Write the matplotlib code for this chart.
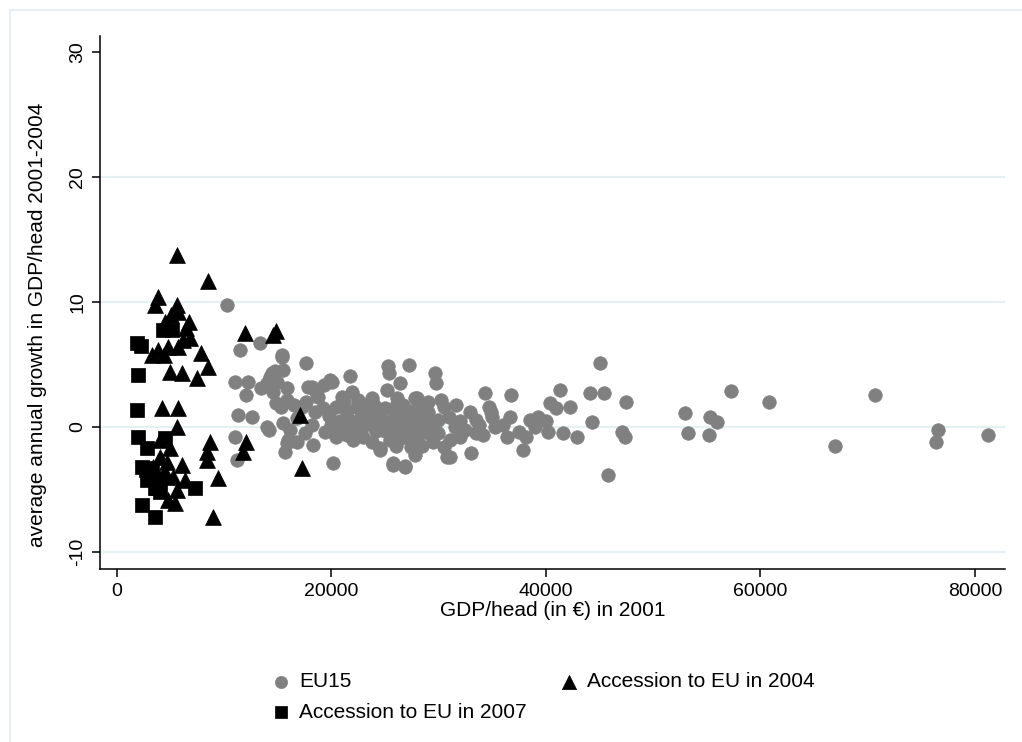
import matplotlib
matplotlib.use("Agg")
import matplotlib.pyplot as plt
from matplotlib.lines import Line2D

plt.rcParams['font.family'] = ['Liberation Sans', 'DejaVu Sans']

# EU15 members: GDP/head 2001 (EUR), avg annual growth 2001-2004 (%)
eu15_x = [10300, 11500, 13400, 11000, 12300, 12100, 11300, 12600, 11000, 11200,
          13500, 14000, 14300, 14500, 14800, 14200, 15400, 15500, 15900, 15000,
          14600, 14900, 15900, 15300, 14200, 15500, 16200, 16000, 15700, 14000,
          17700, 17800, 18200, 19300, 19900, 17300, 17700, 18500, 18200, 17600,
          16800, 18300, 19400, 20200, 20100, 21800, 21900, 21000, 20500, 20500,
          19800, 20800, 21500, 22400, 22000, 22800, 23000, 23800, 23400, 24000,
          24200, 24600, 25200, 25300, 25400, 26400, 26100, 27300, 27800, 25000,
          25500, 25800, 26000, 26500, 26700, 27000, 27300, 27500, 28000, 28200,
          28600, 28000, 25800, 26900, 27800, 27400, 29700, 29800, 30200, 29000,
          29500, 30000, 30500, 31100, 31600, 31000, 32000, 32900, 33500, 34300,
          34700, 34900, 34200, 33000, 31100, 30800, 32500, 33800, 35300, 36400,
          36800, 36700, 37900, 38200, 38500, 39300, 40200, 40400, 41300, 42300,
          41000, 41600, 42900, 44100, 45400, 45100, 44300, 47500, 47100, 47400,
          45800, 53000, 53300, 55300, 56000, 55200, 57300, 60800, 67000, 70700,
          76600, 76400, 81200,
          21000, 21500, 22000, 22500, 23000, 23500, 24000, 24500, 25000, 25500,
          26000, 26500, 27000, 27500, 28000, 28500, 29000, 29500, 30000, 31500,
          22500, 23000, 24500, 24000, 26000, 27000, 28500, 29000, 30500, 32000,
          33500, 35000, 36000, 37500, 39000, 40000, 21200, 21800, 23800, 20000,
          19200, 18800, 16500, 16800, 15400, 15900, 18600, 24600, 25800, 26900]
eu15_y = [9.8, 6.2, 6.7, 3.6, 3.6, 2.6, 1.0, 0.8, -0.8, -2.6,
          3.1, 3.5, 4.0, 4.3, 4.5, 3.3, 5.6, 4.6, 3.1, 3.6,
          2.8, 1.9, 2.2, 1.6, -0.2, 0.3, -0.2, -1.0, -2.0, 0.0,
          5.1, 3.2, 3.2, 3.4, 3.8, 1.6, 2.0, 1.2, 0.2, -0.5,
          0.7, -1.4, -0.4, -2.9, 3.6, 4.1, 2.8, 2.4, 1.6, -0.8,
          0.9, 0.5, 1.2, 1.6, 0.4, 0.9, 0.1, 2.3, 1.4, 0.8,
          -0.3, -1.8, 3.0, 4.9, 4.3, 3.5, 2.3, 5.0, 2.3, 1.5,
          0.5, -0.5, 1.0, 0.0, 1.8, -0.8, 0.6, 1.3, -0.2, 0.8,
          1.6, 2.3, -3.0, -3.2, -2.2, -1.6, 4.3, 3.5, 2.2, 1.2,
          0.3, -0.5, 1.6, -1.0, 1.8, 0.8, 0.5, 1.2, 0.6, 2.7,
          1.6, 1.2, -0.6, -2.1, -2.4, -2.4, -0.2, 0.2, 0.0, -0.8,
          2.6, 0.8, -1.8, -0.8, 0.6, 0.8, -0.4, 1.9, 3.0, 1.6,
          1.5, -0.5, -0.8, 2.7, 2.7, 5.1, 0.4, 2.0, -0.4, -0.8,
          -3.8, 1.1, -0.5, 0.8, 0.4, -0.6, 2.9, 2.0, -1.5, 2.6,
          -0.2, -1.2, -0.6,
          0.0, -0.6, -1.0, -0.3, -0.8, 0.5, 0.0, 0.5, -0.3, -1.0,
          -1.5, -0.9, 0.3, -0.4, -1.0, 0.3, -0.5, -1.2, 0.6, 0.0,
          2.2, 1.8, 1.0, 1.8, 1.7, 1.0, -1.5, 2.0, -1.6, -0.8,
          -0.5, 0.8, 0.2, -0.4, 0.0, 0.5, 2.0, -0.2, -1.2, 0.2,
          1.5, 2.4, 1.8, -1.2, 5.8, -1.3, 2.8, -1.7, -2.9, -3.1]

# Accession to EU in 2004
acc04_x = [5645, 8530, 3870, 3590, 5630, 5730, 4520, 6760, 6200, 6850,
           5730, 4800, 3870, 3310, 4430, 7920, 8530, 7500, 6100, 4990,
           11975, 14585, 14870, 5080, 6480,
           4240, 5730, 5640, 8710, 8430, 8430, 9460, 8990, 4990, 6100,
           5270, 5640, 4800, 5450, 3770, 4050, 4520, 3400, 4050, 4700,
           6380, 12080, 11800, 17100, 17290]
acc04_y = [13.76, 11.7, 10.4, 9.8, 9.8, 9.2, 8.4, 8.4, 7.0, 7.1,
           6.4, 6.4, 6.2, 5.8, 5.8, 5.9, 4.8, 3.9, 4.3, 4.4,
           7.5, 7.4, 7.7, 9.0, 7.9,
           1.5, 1.5, 0.0, -1.2, -2.0, -2.6, -4.1, -7.2, -1.7, -3.0,
           -4.0, -5.0, -5.8, -6.1, -4.8, -2.4, -3.6, -3.2, -1.0, -2.8,
           -4.2, -1.2, -2.0, 1.0, -3.3]

# Accession to EU in 2007
acc07_x = [1910, 2280, 4330, 5170, 2000, 1910, 2000, 4520, 2840, 2380,
           3310, 2840, 3590, 4050, 2380, 3590, 7320, 2750, 4050]
acc07_y = [6.7, 6.5, 7.8, 7.8, 4.2, 1.4, -0.8, -0.9, -1.7, -3.2,
           -3.3, -4.2, -4.9, -4.1, -6.2, -7.2, -4.9, -3.4, -5.2]

x_ticks = [0, 20000, 40000, 60000, 80000]
y_ticks = [-10, 0, 10, 20, 30]
grid_y = [-10, 0, 10, 20]

W, H = 1022, 742
fig = plt.figure(figsize=(W / 100, H / 100), dpi=100)
fig.patch.set_facecolor('white')

# faint outer frame lines
fig.add_artist(Line2D([10 / W, 1], [1 - 10 / H, 1 - 10 / H], color='#E3EBEE', lw=1.2))
fig.add_artist(Line2D([10 / W, 10 / W], [0, 1 - 10 / H], color='#E3EBEE', lw=1.2))

left, right = 100 / W, 1005 / W
bottom, top = (H - 569) / H, (H - 36) / H
ax = fig.add_axes([left, bottom, right - left, top - bottom])

for gy in grid_y:
    ax.axhline(gy, color='#E6EFF1', lw=1.6, zorder=0)

ax.scatter(eu15_x, eu15_y, s=95, marker='o', color='#808080', edgecolors='#808080',
           linewidths=0.5, zorder=2, label='EU15')
ax.scatter(acc07_x, acc07_y, s=95, marker='s', color='black', edgecolors='black',
           linewidths=0.5, zorder=3, label='Accession to EU in 2007')
ax.scatter(acc04_x, acc04_y, s=130, marker='^', color='black', edgecolors='black',
           linewidths=0.5, zorder=3, label='Accession to EU in 2004')

ax.set_xlim(-1538, 82800)
ax.set_ylim(-11.36, 31.28)
ax.set_xticks(x_ticks)
ax.set_yticks(y_ticks)
ax.set_xticklabels([str(v) for v in x_ticks])
ax.set_yticklabels([str(v) for v in y_ticks], rotation=90, va='center')

for s in ['top', 'right']:
    ax.spines[s].set_visible(False)
for s in ['left', 'bottom']:
    ax.spines[s].set_linewidth(1.1)
ax.tick_params(axis='both', direction='out', length=6, width=1.1, labelsize=14, pad=4)

ax.set_xlabel('GDP/head (in €) in 2001', fontsize=15, labelpad=1)
ax.set_ylabel('average annual growth in GDP/head 2001-2004', fontsize=15)
ax.yaxis.set_label_coords((47 - 100) / 905, (569 - 325) / 533)

leg = fig.legend(loc='center', bbox_to_anchor=(542 / W, 1 - 697 / H), ncol=2,
                 frameon=False, fontsize=15, markerscale=0.9, handletextpad=0.3,
                 columnspacing=1.5, labelspacing=0.55, handlelength=1.1)

fig.savefig('out.png', dpi=100)
